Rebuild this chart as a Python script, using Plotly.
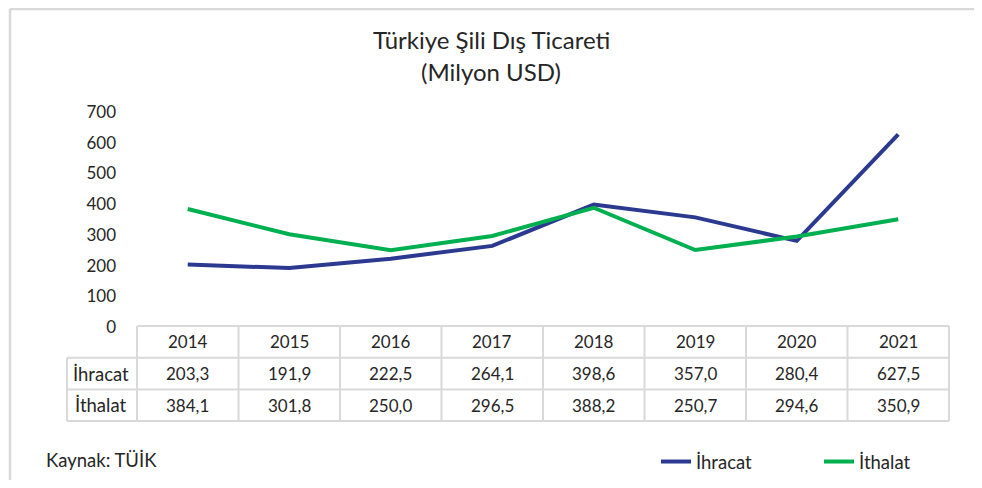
import plotly.graph_objects as go

# data
years = ["2014", "2015", "2016", "2017", "2018", "2019", "2020", "2021"]
ihracat = [203.3, 191.9, 222.5, 264.1, 398.6, 357.0, 280.4, 627.5]
ithalat = [384.1, 301.8, 250.0, 296.5, 388.2, 250.7, 294.6, 350.9]
y_ticks = [0, 100, 200, 300, 400, 500, 600, 700]

FONT = "Lato"
TXT = "#262626"
GRID = "#d9d9d9"
BLUE = "#2b3990"
GREEN = "#00b050"

# page pixels (the html body adds an 8px margin on every side)
OFF = 8
W, H = 982 - OFF, 488 - 2 * OFF
PLOT_L, PLOT_R, PLOT_T, PLOT_B = 137, 949, 112, 327
L, T = PLOT_L - OFF, PLOT_T - OFF
R, B = W - (PLOT_R - OFF), H - (PLOT_B - OFF)
PW, PH = PLOT_R - PLOT_L, PLOT_B - PLOT_T


def fx(px):
    return (px - PLOT_L) / PW


def fy(py):
    return (PLOT_B - py) / PH


def fmt(v):
    return f"{v:.1f}".replace(".", ",")


fig = go.Figure()
fig.add_trace(go.Scatter(x=years, y=ihracat, mode="lines", name="İhracat",
                         line=dict(color=BLUE, width=4)))
fig.add_trace(go.Scatter(x=years, y=ithalat, mode="lines", name="İthalat",
                         line=dict(color=GREEN, width=4)))

# data table under the plot
row_h = 31.7
rows_y = [PLOT_B - 1 + i * row_h for i in range(4)]
n = len(years)
shapes = []
line = dict(color=GRID, width=2)
shapes.append(dict(type="line", xref="paper", yref="paper", x0=0, x1=1,
                   y0=fy(rows_y[0]), y1=fy(rows_y[0]), line=line))
for ry in rows_y[1:]:
    shapes.append(dict(type="line", xref="paper", yref="paper", x0=fx(67), x1=1,
                       y0=fy(ry), y1=fy(ry), line=line))
for k in range(n + 1):
    shapes.append(dict(type="line", xref="paper", yref="paper", x0=k / n, x1=k / n,
                       y0=fy(rows_y[0]), y1=fy(rows_y[3]), line=line))
shapes.append(dict(type="line", xref="paper", yref="paper", x0=fx(67), x1=fx(67),
                   y0=fy(rows_y[1]), y1=fy(rows_y[3]), line=line))
# outer chart border
for x0, y0, x1, y1 in [(10, 9, 977, 9), (10, 9, 10, 488), (977, 9, 977, 488)]:
    shapes.append(dict(type="line", xref="paper", yref="paper", x0=fx(x0), x1=fx(x1),
                       y0=fy(y0), y1=fy(y1), line=dict(color=GRID, width=2.5)))

ann = []
num_font = dict(family=FONT, size=17, color=TXT)
word_font = dict(family=FONT, size=18.5, color=TXT)


def cell(x, xref, y, text, font, xanchor="center"):
    return dict(x=x, xref=xref, y=y, yref="paper", text=text, showarrow=False,
                font=font, xanchor=xanchor, yanchor="middle")


for i, yr in enumerate(years):
    ann.append(cell(i, "x", fy((rows_y[0] + rows_y[1]) / 2), yr, num_font))
    ann.append(cell(i, "x", fy((rows_y[1] + rows_y[2]) / 2), fmt(ihracat[i]), num_font))
    ann.append(cell(i, "x", fy((rows_y[2] + rows_y[3]) / 2), fmt(ithalat[i]), num_font))
ann.append(cell(fx(101), "paper", fy((rows_y[1] + rows_y[2]) / 2), "İhracat", word_font))
ann.append(cell(fx(101), "paper", fy((rows_y[2] + rows_y[3]) / 2), "İthalat", word_font))

# titles and source
title_font = dict(family=FONT, size=24, color=TXT)
ann.append(cell(fx(491), "paper", fy(40), "Türkiye Şili Dış Ticareti", title_font))
ann.append(cell(fx(491), "paper", fy(71), "(Milyon USD)", title_font))
ann.append(cell(fx(44), "paper", fy(460), "Kaynak: TÜİK", word_font, xanchor="left"))

fig.update_layout(
    width=W, height=H,
    margin=dict(l=L, r=R, t=T, b=B, pad=0, autoexpand=False),
    paper_bgcolor="white", plot_bgcolor="white",
    font=dict(family=FONT, size=16, color=TXT),
    showlegend=True,
    legend=dict(orientation="h", x=fx(656), y=fy(462), xanchor="left", yanchor="middle",
                font=word_font, entrywidth=118, entrywidthmode="pixels",
                bgcolor="rgba(0,0,0,0)"),
    shapes=shapes,
    annotations=ann,
    xaxis=dict(type="category", range=[-0.5, n - 0.5], showticklabels=False,
               showgrid=False, zeroline=False, showline=False, ticks=""),
    yaxis=dict(range=[0, 700], tickvals=y_ticks, showgrid=False, zeroline=False,
               showline=False, ticks="", ticklabelstandoff=20,
               tickfont=num_font),
)

fig.write_html("out.html")
